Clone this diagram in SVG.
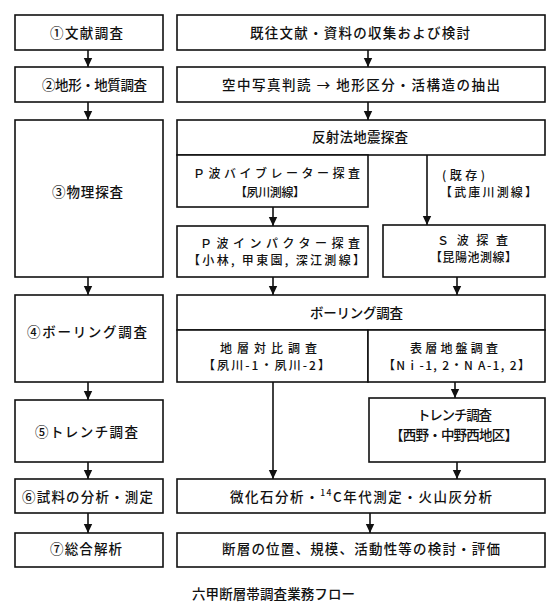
<svg xmlns="http://www.w3.org/2000/svg" width="558" height="605" viewBox="0 0 558 605">
<style>
.box{fill:#fff;stroke:#111;stroke-width:1.6}
.t{font-family:"Noto Sans CJK JP","Noto Sans",sans-serif;font-size:13.5px;fill:#111;text-anchor:middle;font-weight:500}
.s{font-size:12px}
.c{stroke:#111;stroke-width:1.6;fill:none;marker-end:url(#ah)}
</style>
<defs>
<marker id="ah" markerUnits="userSpaceOnUse" markerWidth="10" markerHeight="10" viewBox="0 0 10 10" refX="9" refY="5" orient="auto">
<path d="M0,0.8 L9,5 L0,9.2 Z" fill="#111"/>
</marker>
</defs>
<rect width="558" height="605" fill="#fff"/>
<g id="connectors">
<line class="c" x1="88" y1="50" x2="88" y2="67"/>
<line class="c" x1="88" y1="102" x2="88" y2="120"/>
<line class="c" x1="88" y1="277" x2="88" y2="295"/>
<line class="c" x1="88" y1="382" x2="88" y2="400"/>
<line class="c" x1="88" y1="462" x2="88" y2="479"/>
<line class="c" x1="88" y1="513" x2="88" y2="533"/>
<line class="c" x1="368" y1="50" x2="368" y2="67"/>
<line class="c" x1="368" y1="102" x2="368" y2="120"/>
<line class="c" x1="427" y1="155" x2="427" y2="225"/>
<line class="c" x1="273" y1="207" x2="273" y2="226"/>
<line class="c" x1="273" y1="277" x2="273" y2="295"/>
<line class="c" x1="457" y1="277" x2="457" y2="295"/>
<line class="c" x1="455" y1="382" x2="455" y2="398"/>
<line class="c" x1="273" y1="382" x2="273" y2="479"/>
<line class="c" x1="457" y1="462" x2="457" y2="479"/>
<line class="c" x1="370" y1="513" x2="370" y2="533"/>
</g>
<g id="n1"><rect class="box" x="15" y="15" width="148" height="35"/><text class="t" x="86.5" y="38" textLength="73" lengthAdjust="spacing">①文献調査</text></g>
<g id="n2"><rect class="box" x="15" y="67" width="148" height="35"/><text class="t" x="94.5" y="90" textLength="105" lengthAdjust="spacing">②地形・地質調査</text></g>
<g id="n3"><rect class="box" x="15" y="120" width="148" height="157"/><text class="t" x="87.5" y="197" textLength="71" lengthAdjust="spacing">③物理探査</text></g>
<g id="n4"><rect class="box" x="15" y="295" width="148" height="87"/><text class="t" x="87" y="337" textLength="120" lengthAdjust="spacing">④ボーリング調査</text></g>
<g id="n5"><rect class="box" x="15" y="400" width="148" height="62"/><text class="t" x="86.5" y="437" textLength="103" lengthAdjust="spacing">⑤トレンチ調査</text></g>
<g id="n6"><rect class="box" x="15" y="479" width="148" height="34"/><text class="t" x="87.5" y="502" textLength="131" lengthAdjust="spacing">⑥試料の分析・測定</text></g>
<g id="n7"><rect class="box" x="15" y="533" width="148" height="34"/><text class="t" x="86" y="554" textLength="72" lengthAdjust="spacing">⑦総合解析</text></g>
<g id="r1"><rect class="box" x="177" y="15" width="368" height="35"/><text class="t" x="360" y="38" textLength="220" lengthAdjust="spacing">既往文献・資料の収集および検討</text></g>
<g id="r2"><rect class="box" x="177" y="67" width="368" height="35"/><text class="t" x="361" y="90" textLength="278" lengthAdjust="spacing">空中写真判読 → 地形区分・活構造の抽出</text></g>
<g id="r3"><rect class="box" x="177" y="120" width="368" height="35"/><text class="t" x="360" y="142" textLength="96" lengthAdjust="spacing">反射法地震探査</text></g>
<g id="r3a"><rect class="box" x="177" y="155" width="191" height="52"/><text class="t s" x="276.5" y="178" textLength="167" lengthAdjust="spacing">Ｐ波バイブレーター探査</text><text class="t s" x="270" y="196.5" textLength="70" lengthAdjust="spacing">【夙川測線】</text></g>
<g id="r3b"><text class="t s" x="463.5" y="179.5" textLength="43" lengthAdjust="spacing">(既存)</text><text class="t s" x="488.5" y="196.5" textLength="97" lengthAdjust="spacing">【武庫川測線】</text></g>
<g id="r3c"><rect class="box" x="177" y="226" width="191" height="51"/><text class="t s" x="280" y="247.5" textLength="160" lengthAdjust="spacing">Ｐ波インパクター探査</text><text class="t s" x="276.5" y="264.5" textLength="177" lengthAdjust="spacing">【小林, 甲東園, 深江測線】</text></g>
<g id="r3d"><rect class="box" x="383" y="225" width="162" height="52"/><text class="t s" x="472.5" y="244.5" textLength="71" lengthAdjust="spacing">Ｓ波探査</text><text class="t s" x="473.5" y="261.5" textLength="87" lengthAdjust="spacing">【昆陽池測線】</text></g>
<g id="r4"><rect class="box" x="177" y="295" width="368" height="35"/><text class="t" x="356.5" y="318" textLength="93" lengthAdjust="spacing">ボーリング調査</text></g>
<g id="r4a"><rect class="box" x="177" y="330" width="191" height="52"/><text class="t s" x="268.5" y="352.5" textLength="97" lengthAdjust="spacing">地層対比調査</text><text class="t s" x="266.5" y="369.5" textLength="127" lengthAdjust="spacing">【夙川-1・夙川-2】</text></g>
<g id="r4b"><rect class="box" x="368" y="330" width="177" height="52"/><text class="t s" x="454" y="352.5" textLength="88" lengthAdjust="spacing">表層地盤調査</text><text class="t s" x="456.5" y="369.5" textLength="147" lengthAdjust="spacing">【N i -1, 2・N A-1, 2】</text></g>
<g id="r5"><rect class="box" x="369" y="398" width="176" height="64"/><text class="t" x="454.5" y="420" textLength="75" lengthAdjust="spacing">トレンチ調査</text><text class="t" x="454" y="440" textLength="128" lengthAdjust="spacing">【西野・中野西地区】</text></g>
<g id="r6"><rect class="box" x="177" y="479" width="368" height="34"/><text class="t" x="361" y="502" textLength="262" lengthAdjust="spacing">微化石分析・<tspan font-size="8.5" dy="-6">14</tspan><tspan dy="6">C年代測定・火山灰分析</tspan></text></g>
<g id="r7"><rect class="box" x="177" y="533" width="368" height="34"/><text class="t" x="361" y="554" textLength="278" lengthAdjust="spacing">断層の位置、規模、活動性等の検討・評価</text></g>
<g id="caption"><text class="t" x="273.5" y="599" textLength="163" lengthAdjust="spacing">六甲断層帯調査業務フロー</text></g>
</svg>
